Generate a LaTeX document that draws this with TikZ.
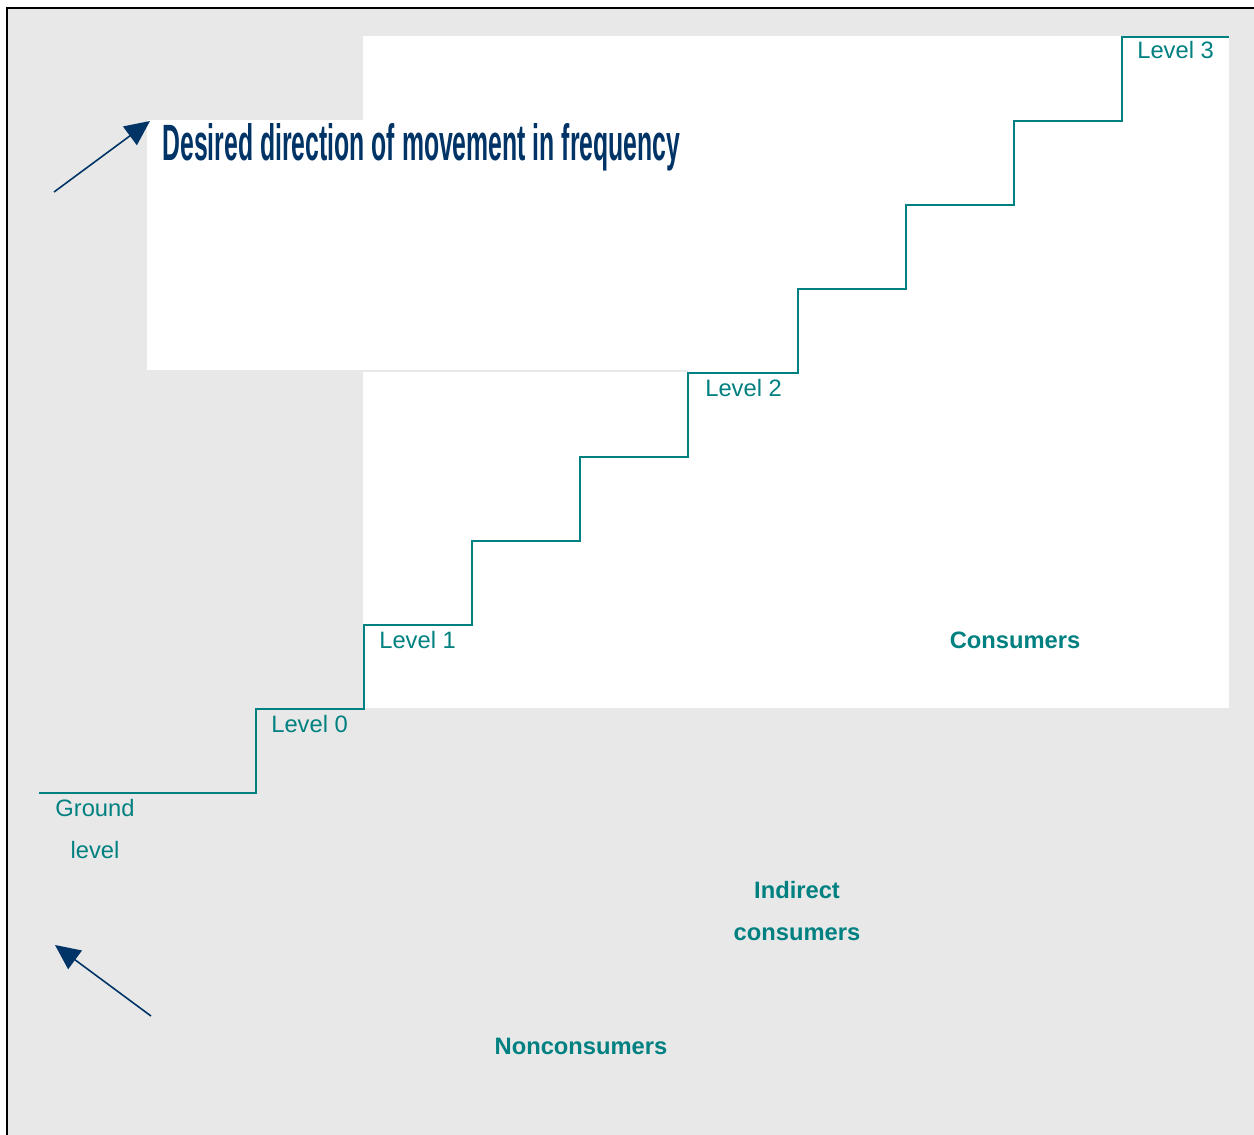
\documentclass[tikz,border=0pt]{standalone}
\usepackage{fontspec}
\setmainfont{Liberation Sans}
\usetikzlibrary{arrows.meta}
\definecolor{stairteal}{RGB}{0,128,128}
\definecolor{arrownavy}{RGB}{0,51,102}
\definecolor{bggray}{RGB}{232,232,232}
\begin{document}
\begin{tikzpicture}[
  x=0.02cm, y=-0.02cm,
  level/.style={anchor=west, inner sep=0pt, text=stairteal, font=\fontsize{13.5}{16}\selectfont},
  group/.style={inner sep=0pt, align=center, text=stairteal, font=\fontsize{13.5}{23.8}\selectfont\bfseries},
  pointer/.style={-{Triangle[length=0.5cm,width=0.46cm]}, arrownavy, line width=0.9pt}
]
\useasboundingbox (0,0) rectangle (1254,1134);
\clip (0,0) rectangle (1254,1134);
\fill[bggray] (7,8) rectangle (1260,1140);
\draw[line width=1.6pt] (1260,8) -- (7,8) -- (7,1140);
\fill[white] (363,36) rectangle (1229,708);
\fill[white] (147,120) rectangle (688,370);
\draw[bggray, line width=0.6pt] (363,371) -- (688,371);

% staircase
\draw[stairteal, line width=1.3pt] (39,793) -- (256,793) |- (364,709) |- (472,625)
  |- (580,541) |- (688,457) |- (798,373) |- (906,289) |- (1014,205) |- (1122,121) |- (1229,37);

\node[level, anchor=center, align=center, font=\fontsize{13.5}{23.8}\selectfont] (ground) at (95,829) {Ground\\level};
\node[level] (lvl0) at (271,724) {Level 0};
\node[level] (lvl1) at (379,640) {Level 1};
\node[level] (lvl2) at (705,388) {Level 2};
\node[level] (lvl3) at (1137,50) {Level 3};

\node[group] (cons) at (1015,640) {Consumers};
\node[group] (indirect) at (797,911) {Indirect\\consumers};
\node[group] (noncons) at (581,1046) {Nonconsumers};

\node[anchor=base west, inner sep=0pt, text=arrownavy] (title) at (162,160)
  {\resizebox{10.36cm}{0.74cm}{\bfseries Desired direction of movement in frequency}};

\coordinate (upfrom) at (54,192);
\coordinate (upto) at (150,121);
\coordinate (backfrom) at (151,1016);
\coordinate (backto) at (55,945);
\draw[pointer] (upfrom) -- (upto);
\draw[pointer] (backfrom) -- (backto);
\end{tikzpicture}
\end{document}
